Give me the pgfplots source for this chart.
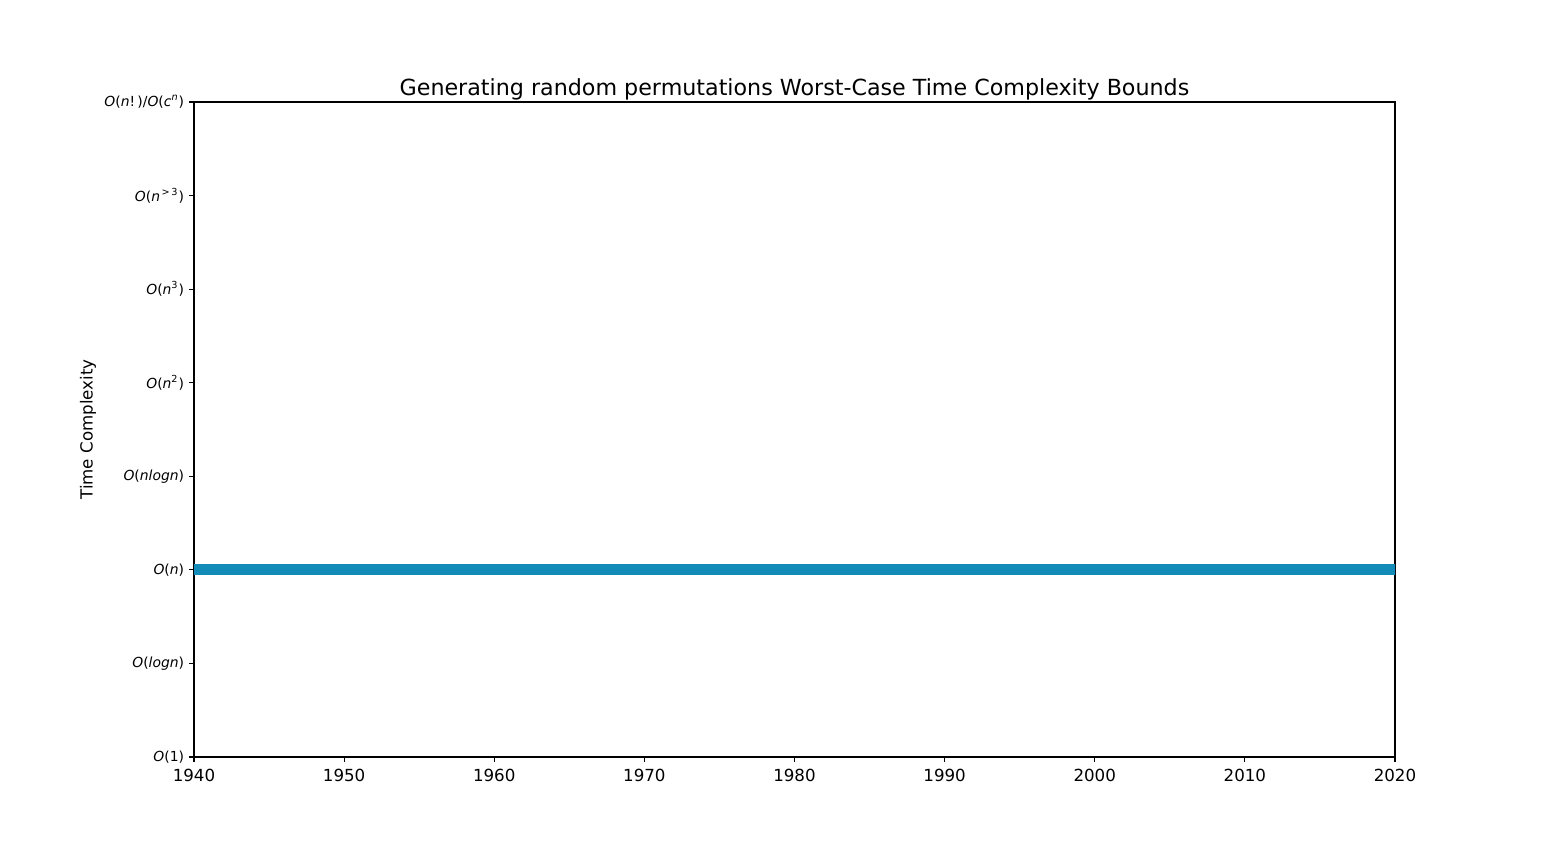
\documentclass[border=0pt]{standalone}
\usepackage{pgfplots}
\pgfplotsset{compat=1.18}
\usepackage{fontspec}
\setmainfont{DejaVu Sans}
\definecolor{linec}{RGB}{18,139,185}
\newcommand{\mi}[1]{\textit{#1}}
\begin{document}
\begin{tikzpicture}
\path[use as bounding box] (0,0) rectangle (775pt,425pt);
\begin{axis}[
  at={(97pt,46.5pt)}, anchor=south west,
  scale only axis, width=600.5pt, height=327.5pt,
  xmin=1940, xmax=2020, ymin=0, ymax=7,
  xtick={1940,1950,1960,1970,1980,1990,2000,2010,2020},
  ytick={0,1,2,3,4,5,6,7},
  yticklabels={
    \mi{O}(1),
    \mi{O}(\mi{logn}),
    \mi{O}(\mi{n}),
    \mi{O}(\mi{nlogn}),
    \mi{O}(\mi{n}\textsuperscript{2}),
    \mi{O}(\mi{n}\textsuperscript{3}),
    \mi{O}(\mi{n}\textsuperscript{\,>\,3}),
    \mi{O}(\mi{n}!\,)/\mi{O}(\mi{c}\textsuperscript{\mi{n}})
  },
  /pgf/number format/assume math mode=true,
  /pgf/number format/1000 sep={},
  xticklabel style={font=\fontsize{8.33pt}{10pt}\selectfont},
  yticklabel style={font=\fontsize{6.94pt}{8pt}\selectfont, xshift=1pt},
  tick align=outside, major tick length=2.43pt,
  xtick pos=bottom, ytick pos=left,
  axis line style={line width=0.56pt},
  every tick/.style={black, line width=0.56pt},
  title={Generating random permutations Worst-Case Time Complexity Bounds},
  title style={font=\fontsize{11.1pt}{13pt}\selectfont, at={(axis description cs:0.5,1)}, anchor=base, yshift=-3pt},
  ylabel={Time Complexity},
  ylabel style={font=\fontsize{8.33pt}{10pt}\selectfont, at={(axis description cs:-0.0883,0.5)}, anchor=center},
  clip=true,
]
\addplot[color=linec, line width=5.5pt] coordinates {(1935,2) (2025,2)};
\end{axis}
\end{tikzpicture}
\end{document}
